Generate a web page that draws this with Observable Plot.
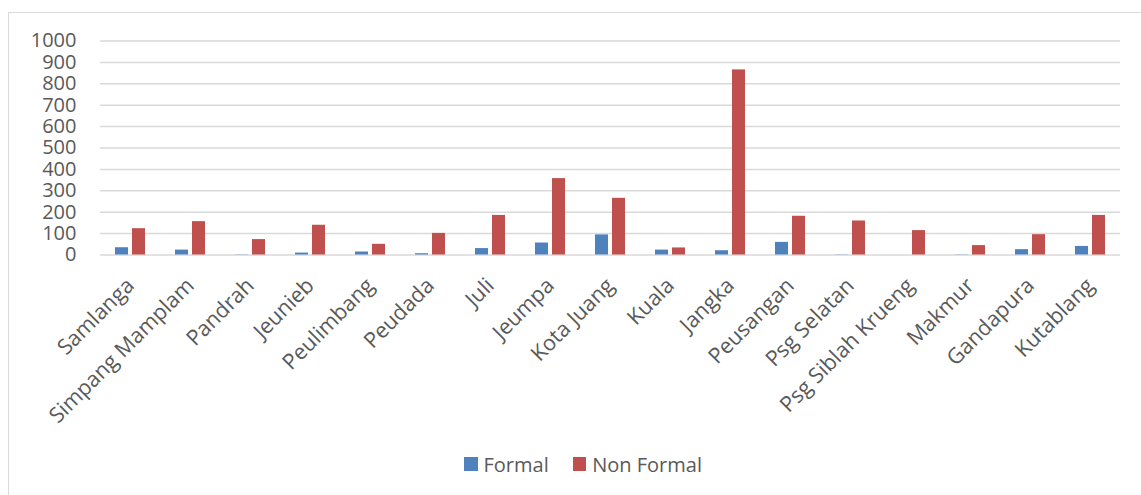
<!DOCTYPE html>
<html><head><meta charset="utf-8">
<script src="https://cdn.jsdelivr.net/npm/d3@7"></script>
<script src="https://cdn.jsdelivr.net/npm/@observablehq/plot@0.6"></script>
<style>
html,body{margin:0;padding:0;background:#fff;overflow:hidden;}
body{position:relative;width:1141px;height:495px;font-family:"Open Sans",sans-serif;}
#frame{position:absolute;left:8px;top:12px;width:1200px;height:600px;border:1px solid #d9d9d9;box-sizing:border-box;}
#chart{position:absolute;left:0;top:0;}
#legend{position:absolute;left:464px;top:450px;height:28px;display:flex;align-items:center;font-size:20px;color:#595959;white-space:nowrap;}
#legend .sw{width:13.5px;height:13.5px;margin-right:6px;}
#legend .item{display:flex;align-items:center;margin-right:24px;}
</style>
</head><body>
<div id="frame"></div>
<div id="chart"></div>
<div id="legend"></div>
<script>
const categories = ["Samlanga","Simpang Mamplam","Pandrah","Jeunieb","Peulimbang","Peudada","Juli","Jeumpa","Kota Juang","Kuala","Jangka","Peusangan","Psg Selatan","Psg Siblah Krueng","Makmur","Gandapura","Kutablang"];
const seriesNames = ["Formal","Non Formal"];
const formal =    [34, 23, 1, 9, 14, 6, 30, 56, 94, 23, 20, 59, 1, 0, 1, 25, 40];
const nonFormal = [123, 156, 72, 139, 50, 101, 185, 357, 265, 33, 865, 181, 159, 114, 44, 95, 185];
const colors = ["#4F81BD","#C0504D"];
const yTicks = [0,100,200,300,400,500,600,700,800,900,1000];

const data = [];
categories.forEach((c,i)=>{
  data.push({cat:c, series:seriesNames[0], value:formal[i]});
  data.push({cat:c, series:seriesNames[1], value:nonFormal[i]});
});

const H = 445;
const chart = Plot.plot({
  width: 1141,
  height: H,
  marginTop: 40.5,
  marginBottom: H - 254.5,
  marginLeft: 97,
  marginRight: 18,
  style: {fontFamily: '"Open Sans", sans-serif', background: "transparent", color: "#595959"},
  fx: {domain: categories, padding: 0, label: null},
  x: {domain: seriesNames, paddingInner: 0.23, paddingOuter: 0.85, axis: null},
  y: {domain: [0,1000], label: null},
  color: {domain: seriesNames, range: colors},
  marks: [
    Plot.ruleY(yTicks, {stroke: "#d9d9d9", strokeWidth: 1.5}),
    Plot.barY(data, {fx: "cat", x: "series", y: "value", fill: "series"}),
    Plot.axisY(yTicks, {tickSize: 0, tickPadding: 24, fontSize: 20, label: null, fill: "#595959", tickFormat: d => String(d)}),
    Plot.axisFx({anchor: "bottom", tickRotate: -45, tickSize: 0, tickPadding: 27, fontSize: 21.5, label: null, fill: "#595959"})
  ]
});
document.getElementById("chart").appendChild(chart);

const legend = document.getElementById("legend");
seriesNames.forEach((s,i)=>{
  const item = document.createElement("div");
  item.className = "item";
  const sw = document.createElement("div");
  sw.className = "sw";
  sw.style.background = colors[i];
  const t = document.createElement("span");
  t.textContent = s;
  item.appendChild(sw); item.appendChild(t);
  legend.appendChild(item);
});
</script>
</body></html>
